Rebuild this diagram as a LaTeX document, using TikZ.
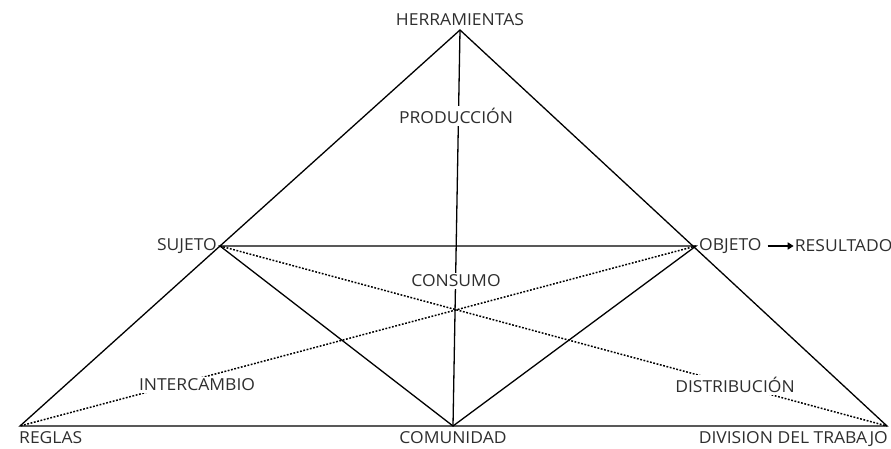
\documentclass[tikz,border=0pt]{standalone}
\usepackage{fontspec}
\setmainfont{Open Sans}[FakeStretch=1.06]
\usetikzlibrary{positioning,arrows.meta}
\definecolor{txtgray}{HTML}{2E2E2E}
\tikzstyle{lbl} = [text=txtgray, font=\fontsize{16.5}{16.5}\selectfont, inner sep=1pt]
\tikzstyle{inlbl} = [lbl, fill=white, inner sep=2pt]
\tikzstyle{side} = [line width=1.3pt, black]
\tikzstyle{cross} = [line width=1.5pt, black, dash pattern=on 1.8pt off 1.6pt]

\begin{document}
\begin{tikzpicture}[x=1pt,y=-1pt]
\useasboundingbox (0,0) rectangle (891,449);

% Vertices
\coordinate (her) at (460,30);
\coordinate (suj) at (220,246);
\coordinate (obj) at (696,246);
\coordinate (reg) at (20,426);
\coordinate (com) at (453,426);
\coordinate (div) at (887,426);

% Edges
\draw[side] (reg) -- (her) -- (div) -- cycle;
\draw[side] (suj) -- (obj) -- (com) -- cycle;
\draw[side] (her) -- (com);
\draw[cross] (suj) -- (div);
\draw[cross] (obj) -- (reg);

% Outer labels
\node[lbl, above=3pt of her]                 (nher) {HERRAMIENTAS};
\node[lbl, left=2pt of suj]                  (nsuj) {SUJETO};
\node[lbl, right=2pt of obj]                 (nobj) {OBJETO};
\node[lbl, right=31pt of nobj]               (nres) {RESULTADO};
\node[lbl, below right=4pt and -2pt of reg]  (nreg) {REGLAS};
\node[lbl, below=4pt of com]                 (ncom) {COMUNIDAD};
\node[lbl, below left=4pt and -2pt of div]   (ndiv) {DIVISION DEL TRABAJO};

\draw[-{Triangle[length=6pt,width=7pt]}, line width=1.6pt, black] ([xshift=5pt]nobj.east) -- (nres.west);

% Inner labels
\node[inlbl] (prod) at (456,116) {PRODUCCIÓN};
\node[inlbl] (cons) at (456,281) {CONSUMO};
\node[inlbl] (inte) at (197,385) {INTERCAMBIO};
\node[inlbl] (dist) at (735,385) {DISTRIBUCIÓN};
\end{tikzpicture}
\end{document}
